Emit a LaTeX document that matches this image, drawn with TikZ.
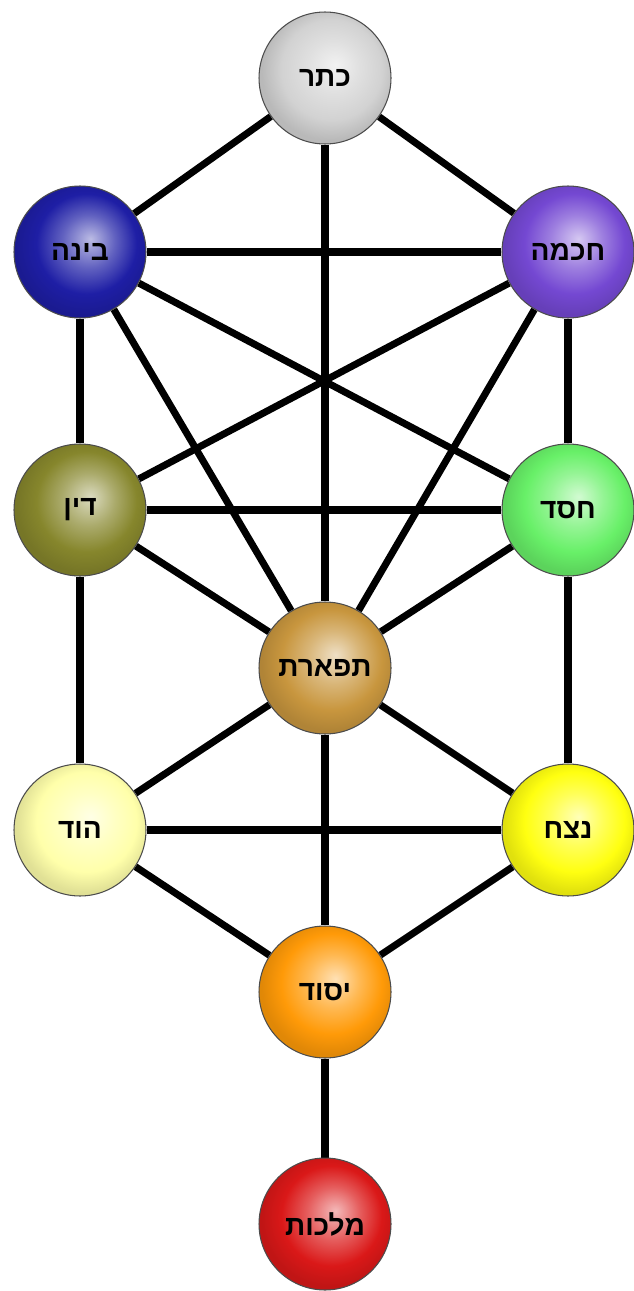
\documentclass[tikz,border=0pt]{standalone}
\usepackage{fontspec}
\newfontfamily\hebfont[Script=Hebrew]{Liberation Sans}
\TeXXeTstate=1
\usetikzlibrary{backgrounds}

\definecolor{ketercol}{HTML}{D2D2D2}
\definecolor{binahcol}{HTML}{1E1EA5}
\definecolor{chokhmahcol}{HTML}{7448D2}
\definecolor{dincol}{HTML}{86862C}
\definecolor{chesedcol}{HTML}{68F068}
\definecolor{tiferetcol}{HTML}{C8963E}
\definecolor{hodcol}{HTML}{FFFFAA}
\definecolor{netzachcol}{HTML}{FFFF10}
\definecolor{yesodcol}{HTML}{FF9A08}
\definecolor{malkhutcol}{HTML}{DA1818}

\colorlet{sephcol}{gray}
\pgfdeclareradialshading[sephcol]{sephball}{\pgfqpoint{4bp}{5bp}}{%
  color(0bp)=(sephcol!30!white);
  color(10bp)=(sephcol!70!white);
  color(19bp)=(sephcol);
  color(26bp)=(sephcol!88!black);
  color(50bp)=(sephcol!88!black)}

\begin{document}
\begin{tikzpicture}[x=0.02cm, y=-0.02cm,
    ballcol/.code={\colorlet{sephcol}{#1}},
    sephira/.style={circle, draw=black!70, line width=0.6pt, minimum size=2.64cm, inner sep=0pt,
        shade, shading=sephball, ballcol=#1, text=black, font=\hebfont\bfseries\fontsize{16}{18}\selectfont},
    path/.style={line width=4pt, black}]
    \useasboundingbox (0,0) rectangle (634,1291);

    \node[sephira=ketercol] (keter) at (325,78) {\beginR כתר\endR};
    \node[sephira=binahcol] (binah) at (80,252) {\beginR בינה\endR};
    \node[sephira=chokhmahcol] (chokhmah) at (568,252) {\beginR חכמה\endR};
    \node[sephira=dincol] (din) at (80,510) {\beginR דין\endR};
    \node[sephira=chesedcol] (chesed) at (568,510) {\beginR חסד\endR};
    \node[sephira=tiferetcol] (tiferet) at (325,668) {\beginR תפארת\endR};
    \node[sephira=hodcol] (hod) at (80,830) {\beginR הוד\endR};
    \node[sephira=netzachcol] (netzach) at (568,830) {\beginR נצח\endR};
    \node[sephira=yesodcol] (yesod) at (325,992) {\beginR יסוד\endR};
    \node[sephira=malkhutcol] (malkhut) at (325,1224) {\beginR מלכות\endR};

    \begin{scope}[on background layer]
        \foreach \a/\b in {keter/binah, keter/chokhmah, keter/tiferet, binah/chokhmah,
                binah/din, chokhmah/chesed, binah/chesed, chokhmah/din,
                binah/tiferet, chokhmah/tiferet, din/chesed, din/tiferet,
                chesed/tiferet, din/hod, chesed/netzach, tiferet/hod,
                tiferet/netzach, tiferet/yesod, hod/netzach, hod/yesod,
                netzach/yesod, yesod/malkhut}
            \draw[path] (\a) -- (\b);
    \end{scope}
\end{tikzpicture}
\end{document}
